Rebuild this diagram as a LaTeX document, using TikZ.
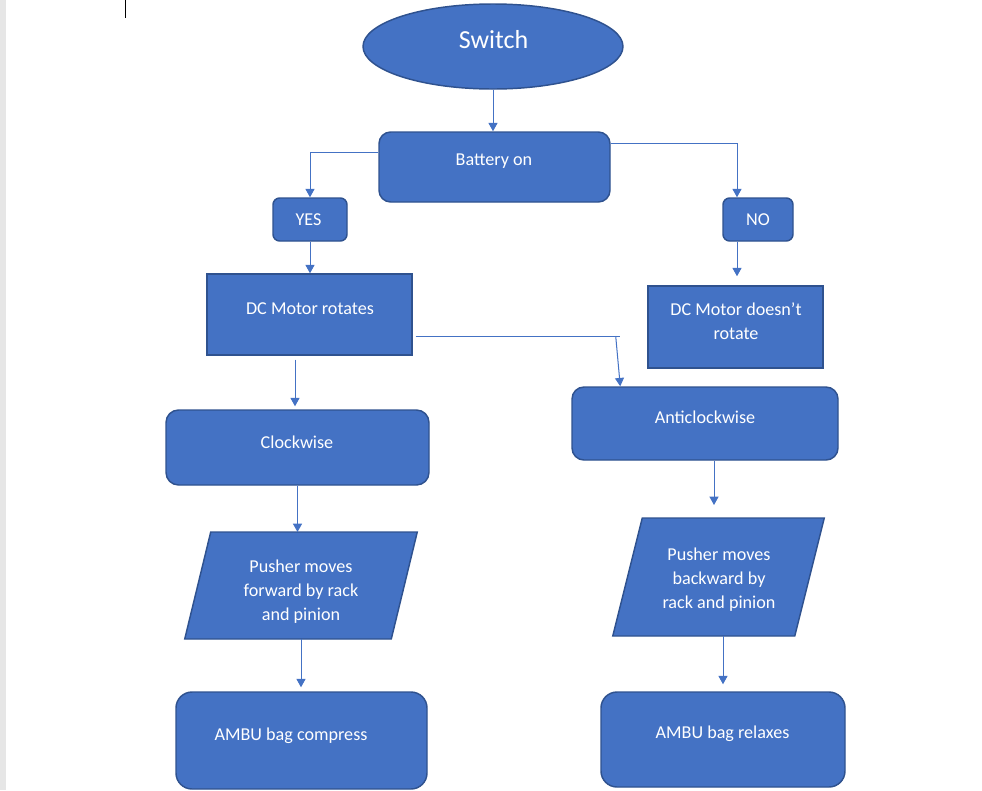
\documentclass[tikz,border=0pt]{standalone}
\usepackage{fontspec}
\setmainfont{Carlito}
\usepackage{xcolor}
\usepackage{tikz}
\usetikzlibrary{positioning,arrows.meta,shapes.geometric,calc}
\definecolor{officeblue}{HTML}{4472C4}
\definecolor{edgeblue}{HTML}{2F528F}
\definecolor{pagegray}{HTML}{E6E6E6}

\begin{document}
\begin{tikzpicture}[x=0.75pt,y=-0.75pt,
    box/.style={draw=edgeblue,line width=1.1pt,fill=officeblue,inner sep=0pt},
    frame/.style={inner sep=0pt,outer sep=0pt},
    txt/.style={text=white,font=\fontsize{13.6}{18}\selectfont,align=center,inner sep=0pt,yshift=-1.1pt},
    conn/.style={draw=officeblue,line width=0.75pt},
    arr/.style={conn,-{Triangle[width=6.75pt,length=6.25pt]}}]
    \useasboundingbox (0,0) rectangle (982,790) ;
    \fill[pagegray] (0,0) rectangle (5.5,790) ;
    \draw[black,line width=0.75pt] (125,0) -- (125,18) ;

    % shapes
    \node[box,ellipse,minimum width=195pt,minimum height=63.75pt] (switch) at (493,46.5) {} ;
    \node[box,rounded corners=8.75pt,minimum width=173.25pt,minimum height=52.5pt] (batt) at (494.5,167) {} ;
    \node[box,rounded corners=5pt,minimum width=55.5pt,minimum height=32.25pt] (yes) at (310,219.5) {} ;
    \node[box,rounded corners=5pt,minimum width=52.5pt,minimum height=32.25pt] (no) at (758,219.5) {} ;
    \node[box,minimum width=153.75pt,minimum height=60.75pt] (dcon) at (309.5,314.5) {} ;
    \node[box,minimum width=131.25pt,minimum height=61.5pt] (dcoff) at (735.5,327) {} ;
    \node[box,rounded corners=9.4pt,minimum width=197.25pt,minimum height=56.25pt] (clock) at (297.5,447.5) {} ;
    \node[box,rounded corners=9pt,minimum width=199.5pt,minimum height=54.75pt] (anti) at (705,423.5) {} ;
    \node[frame,minimum width=154.9pt,minimum height=80.25pt] (pushf) at (301,585.5) {} ;
    \node[frame,minimum width=136.5pt,minimum height=88.5pt] (pushb) at (718.5,577) {} ;
    \node[box,rounded corners=12pt,minimum width=188.25pt,minimum height=72.75pt] (amc) at (301.5,740.5) {} ;
    \node[box,rounded corners=12pt,minimum width=183pt,minimum height=71.25pt] (amr) at (723,739.5) {} ;
    \draw[box] ($(pushf.north west)+(13,0)$) -- ($(pushf.north east)+(13,0)$)
      -- ($(pushf.south east)+(-13,0)$) -- ($(pushf.south west)+(-13,0)$) -- cycle ;
    \draw[box] ($(pushb.north west)+(14.75,0)$) -- ($(pushb.north east)+(14.75,0)$)
      -- ($(pushb.south east)+(-14.75,0)$) -- ($(pushb.south west)+(-14.75,0)$) -- cycle ;

    % labels
    \node[txt,font=\fontsize{19.5}{24}\selectfont] (switchlbl) at (493.5,37.7) {Switch} ;
    \node[txt] (battlbl) at (494,160) {Battery on} ;
    \node[txt] (yeslbl) at (308.5,218) {YES} ;
    \node[txt] (nolbl) at (758,218) {NO} ;
    \node[txt] (dconlbl) at (310,307) {DC Motor rotates} ;
    \node[txt] (dcofflbl) at (736,320) {DC Motor doesn’t\\rotate} ;
    \node[txt] (clocklbl) at (297,441) {Clockwise} ;
    \node[txt] (antilbl) at (705,416) {Anticlockwise} ;
    \node[txt] (pushflbl) at (301,590) {Pusher moves\\forward by rack\\and pinion} ;
    \node[txt] (pushblbl) at (719,578) {Pusher moves\\backward by\\rack and pinion} ;
    \node[txt] (amclbl) at (291,734) {AMBU bag compress} ;
    \node[txt] (amrlbl) at (722.5,732) {AMBU bag relaxes} ;

    % connectors
    \coordinate (elbow) at (620,336) ;
    \coordinate (tap) at ([xshift=2.25pt]dcon.east) ;
    \coordinate (antifoot) at ($(anti.south)+(9,0)$) ;
    \draw[arr] (switch.south) -- (switch.south |- batt.north) ;
    \draw[arr] ([yshift=11.25pt]batt.west) -| (yes.north) ;
    \draw[arr] ([yshift=18pt]batt.east) -| ([xshift=-15.75pt]no.north) ;
    \draw[arr] (yes.south) -- (yes.south |- dcon.north) ;
    \draw[arr,shorten >=6.75pt] ([xshift=-15.75pt]no.south) -- ([xshift=-15.75pt]no.south |- dcoff.north) ;
    \draw[conn] (tap |- elbow) -- (elbow) ;
    \draw[arr] ($(elbow)+(-4.3,0)$) -- ($(anti.north west)+(49,0)$) ;
    \draw[arr,shorten <=3pt,shorten >=2.25pt] ($(dcon.south)+(-14.5,0)$) -- ($(clock.north)+(-2.5,0)$) ;
    \draw[arr] (clock.south) -- (clock.south |- pushf.north) ;
    \draw[arr,shorten >=3pt] (pushf.south) -- (pushf.south |- amc.north) ;
    \draw[arr,shorten >=9.75pt] (antifoot) -- (antifoot |- pushb.north) ;
    \draw[arr,shorten >=5.25pt] (amr.north |- pushb.south) -- (amr.north) ;
  \end{tikzpicture}
\end{document}
